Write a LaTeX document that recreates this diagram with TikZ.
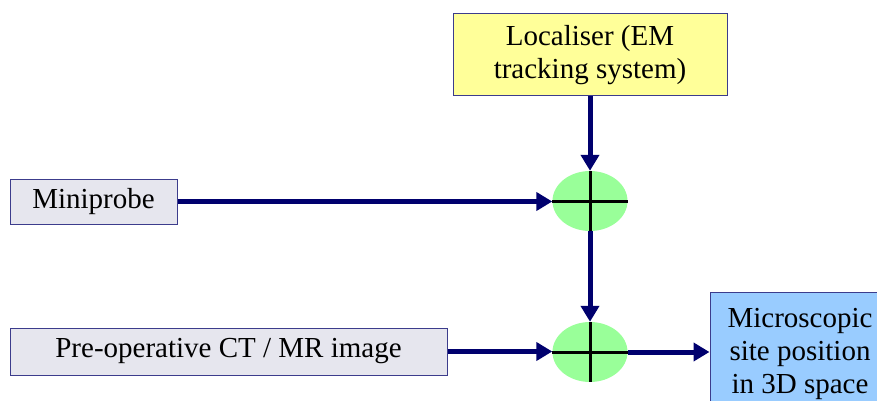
\documentclass[tikz,border=0pt]{standalone}
\usepackage{fontspec}
\setmainfont{Liberation Serif}
\usetikzlibrary{arrows.meta,shapes.geometric}
\definecolor{navy}{RGB}{0,0,110}
\definecolor{boxline}{RGB}{60,60,140}
\definecolor{yel}{RGB}{255,255,153}
\definecolor{grayb}{RGB}{230,230,238}
\definecolor{blueb}{RGB}{153,204,255}
\definecolor{grn}{RGB}{153,255,153}
\tikzset{
  blk/.style={draw=boxline, line width=1pt, inner sep=0pt, align=center,
    font=\fontsize{29}{33}\selectfont},
  sumnode/.style={shape=ellipse, fill=grn, draw=none, minimum width=75pt,
    minimum height=60pt, inner sep=0pt},
  crossline/.style={line width=3pt, black},
  flow/.style={draw=navy, line width=5pt, -{Triangle[length=16pt,width=18pt]}}
}
\begin{document}
\begin{tikzpicture}[x=1pt,y=-1pt]
\useasboundingbox (0,0) rectangle (877,401);
\clip (0,0) rectangle (877,401);
\node[blk, fill=yel, minimum width=274pt, minimum height=82pt] (loc) at (590,55)
  {Localiser (EM\\tracking system)};
\node[blk, fill=grayb, minimum width=167pt, minimum height=45pt] (mini) at (93.5,201.5)
  {Miniprobe};
\node[blk, fill=grayb, minimum width=437pt, minimum height=47pt] (pre) at (228.5,351.5)
  {Pre-operative CT / MR image};
\node[blk, fill=blueb, minimum width=180pt, minimum height=124pt] (out) at (800,354)
  {Microscopic\\site position\\in 3D space};
\node[sumnode] (e1) at (590,201) {};
\node[sumnode] (e2) at (590,352) {};
\draw[crossline] (e1.west) -- (e1.east);
\draw[crossline] (e1.north) -- (e1.south);
\draw[crossline] (e2.west) -- (e2.east);
\draw[crossline] (e2.north) -- (e2.south);
\draw[flow] (loc.south) -- (e1.north);
\draw[flow] (mini.east) -- (mini.east -| e1.west);
\draw[flow] (e1.south) -- (e2.north);
\draw[flow] (pre.east) -- (pre.east -| e2.west);
\draw[flow] (e2.east) -- (e2.east -| out.west);
\end{tikzpicture}
\end{document}
